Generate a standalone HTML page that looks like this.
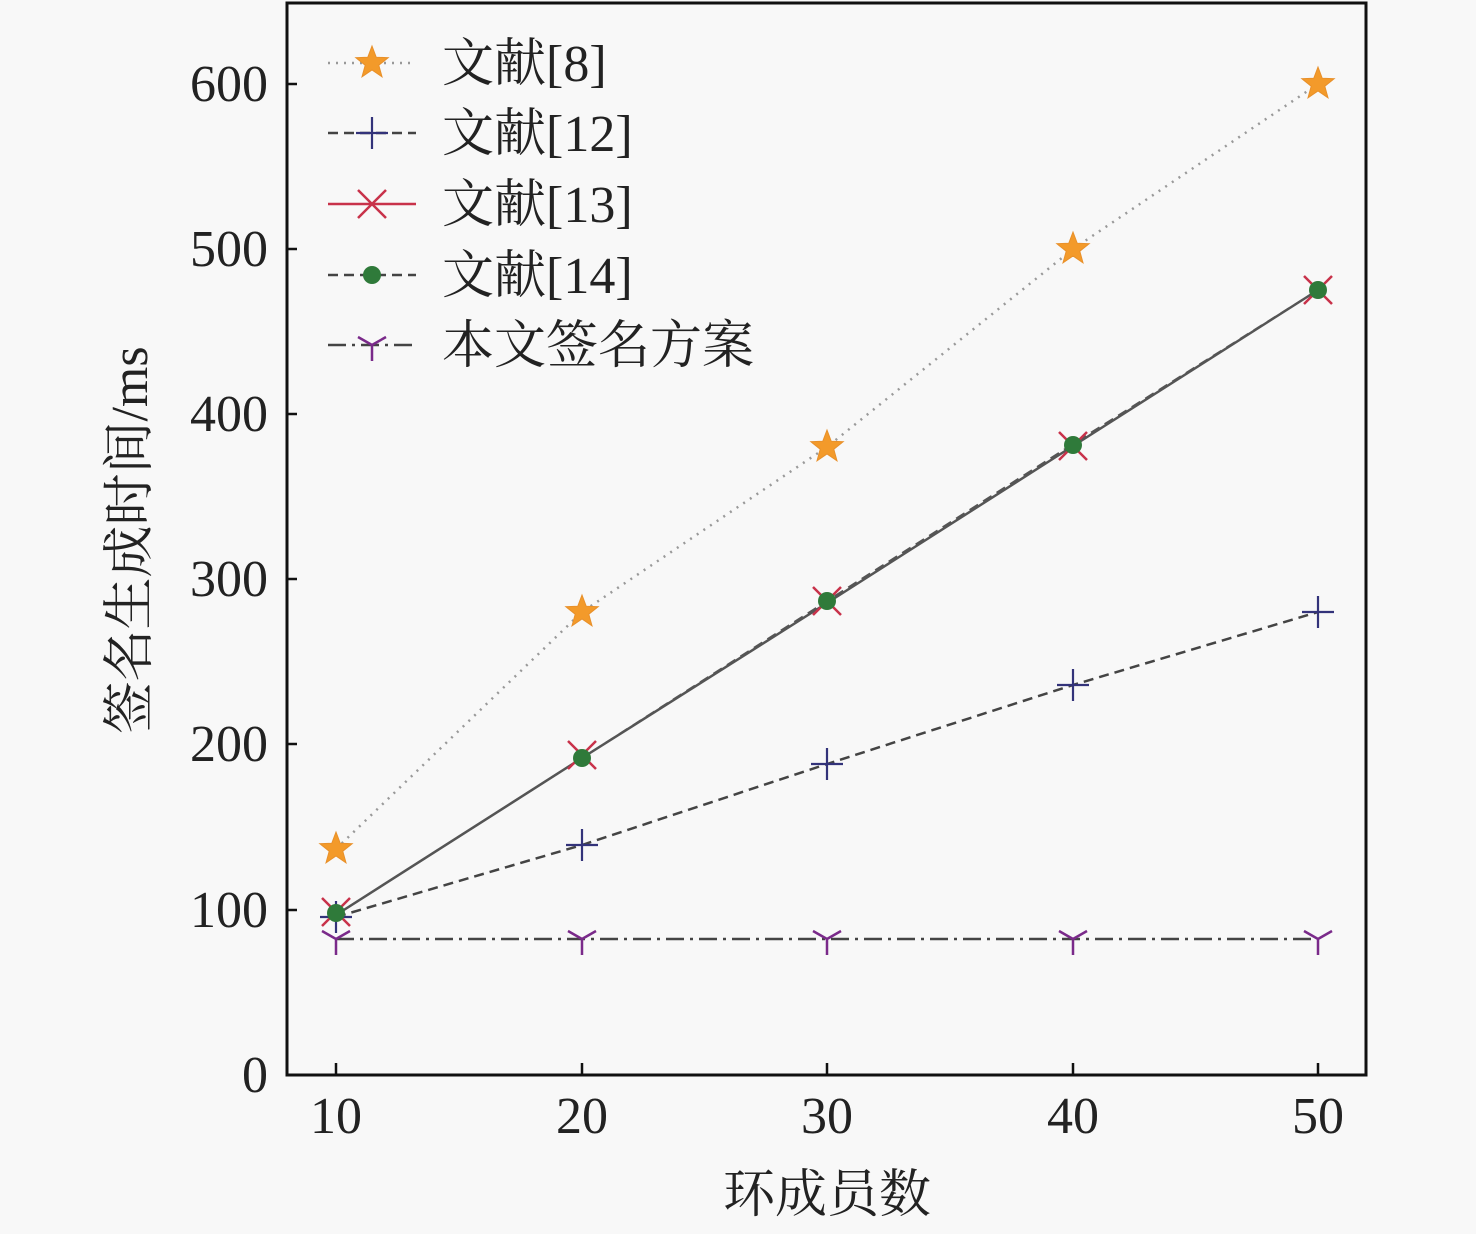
<!DOCTYPE html>
<html><head><meta charset="utf-8"><style>
body{margin:0;background:#f8f8f8}
text{font-family:"Liberation Serif","Noto Serif CJK SC",serif;fill:#222}
</style></head><body>
<svg width="1476" height="1229" xmlns="http://www.w3.org/2000/svg">
<defs>
<polygon id="star" points="0,-17 4.2,-5.8 16.2,-5.3 6.8,2.2 10,13.8 0,7 -10,13.8 -6.8,2.2 -16.2,-5.3 -4.2,-5.8" fill="#f39a2a" stroke="#e8902a" stroke-width="1"/>
<g id="plus"><path d="M-16,0H16M0,-16V16" stroke="#33337a" stroke-width="2.2"/></g>
<g id="cross"><path d="M-14,-14L14,14M-14,14L14,-14" stroke="#c8324a" stroke-width="2.5"/></g>
<circle id="dot" r="9" fill="#2f7a3a"/>
<g id="tri"><path d="M0,0V16M0,0L-14,-8M0,0L14,-8" stroke="#7a2a8a" stroke-width="2.5"/></g>
</defs>
<rect x="287" y="3" width="1079" height="1072" fill="none" stroke="#111" stroke-width="3"/>
<g stroke="#111" stroke-width="2.5">
<path d="M287,1075h10M287,910h10M287,744h10M287,579h10M287,414h10M287,249h10M287,84h10"/>
<path d="M336,1075v-12M582,1075v-12M827,1075v-12M1073,1075v-12M1318,1075v-12"/>
</g>
<g font-size="52" text-anchor="end">
<text x="268" y="1092">0</text><text x="268" y="927">100</text><text x="268" y="761">200</text>
<text x="268" y="596">300</text><text x="268" y="431">400</text><text x="268" y="266">500</text><text x="268" y="101">600</text>
</g>
<g font-size="52" text-anchor="middle">
<text x="336" y="1133">10</text><text x="582" y="1133">20</text><text x="827" y="1133">30</text><text x="1073" y="1133">40</text><text x="1318" y="1133">50</text>
<text x="827" y="1212">环成员数</text>
</g>
<text font-size="52" text-anchor="middle" transform="translate(147,540) rotate(-90)">签名生成时间/ms</text>
<polyline points="336,849 582,612 827,447 1073,249 1318,84" fill="none" stroke="#999" stroke-width="2.5" stroke-dasharray="2,6"/>
<polyline points="336,917 582,845 827,764 1073,685 1318,612" fill="none" stroke="#444" stroke-width="2.5" stroke-dasharray="10,6"/>
<polyline points="336,915 582,758 827,603 1073,446 1318,290" fill="none" stroke="#555" stroke-width="2.5"/>
<polyline points="336,915 582,758 827,601 1073,444 1318,290" fill="none" stroke="#555" stroke-width="2" stroke-dasharray="10,6"/>
<polyline points="336,939 582,939 827,939 1073,939 1318,939" fill="none" stroke="#444" stroke-width="2.5" stroke-dasharray="18,6,3,6"/>
<g>
<use href="#star" x="336" y="849"/><use href="#star" x="582" y="612"/><use href="#star" x="827" y="447"/><use href="#star" x="1073" y="249"/><use href="#star" x="1318" y="84"/>
<use href="#plus" x="336" y="917"/><use href="#plus" x="582" y="845"/><use href="#plus" x="827" y="764"/><use href="#plus" x="1073" y="685"/><use href="#plus" x="1318" y="612"/>
<use href="#cross" x="336" y="912"/><use href="#cross" x="582" y="755"/><use href="#cross" x="827" y="601"/><use href="#cross" x="1073" y="446"/><use href="#cross" x="1318" y="290"/>
<use href="#dot" x="336" y="913"/><use href="#dot" x="582" y="758"/><use href="#dot" x="827" y="601"/><use href="#dot" x="1073" y="445"/><use href="#dot" x="1318" y="290"/>
<use href="#tri" x="336" y="939"/><use href="#tri" x="582" y="939"/><use href="#tri" x="827" y="939"/><use href="#tri" x="1073" y="939"/><use href="#tri" x="1318" y="939"/>
</g>
<g>
<line x1="328" y1="63" x2="416" y2="63" stroke="#999" stroke-width="2.5" stroke-dasharray="2,6"/><use href="#star" x="372" y="63"/>
<line x1="328" y1="133" x2="416" y2="133" stroke="#444" stroke-width="2.5" stroke-dasharray="10,6"/><use href="#plus" x="372" y="133"/>
<line x1="328" y1="204" x2="416" y2="204" stroke="#c8324a" stroke-width="2.5"/><use href="#cross" x="372" y="204"/>
<line x1="328" y1="275" x2="416" y2="275" stroke="#444" stroke-width="2.5" stroke-dasharray="10,6"/><use href="#dot" x="372" y="275"/>
<line x1="328" y1="345" x2="416" y2="345" stroke="#444" stroke-width="2.5" stroke-dasharray="18,6,3,6"/><use href="#tri" x="372" y="345"/>
</g>
<g font-size="52">
<text x="442" y="81">文献[8]</text><text x="442" y="151">文献[12]</text><text x="442" y="222">文献[13]</text><text x="442" y="293">文献[14]</text><text x="442" y="363">本文签名方案</text>
</g>
</svg>
</body></html>
